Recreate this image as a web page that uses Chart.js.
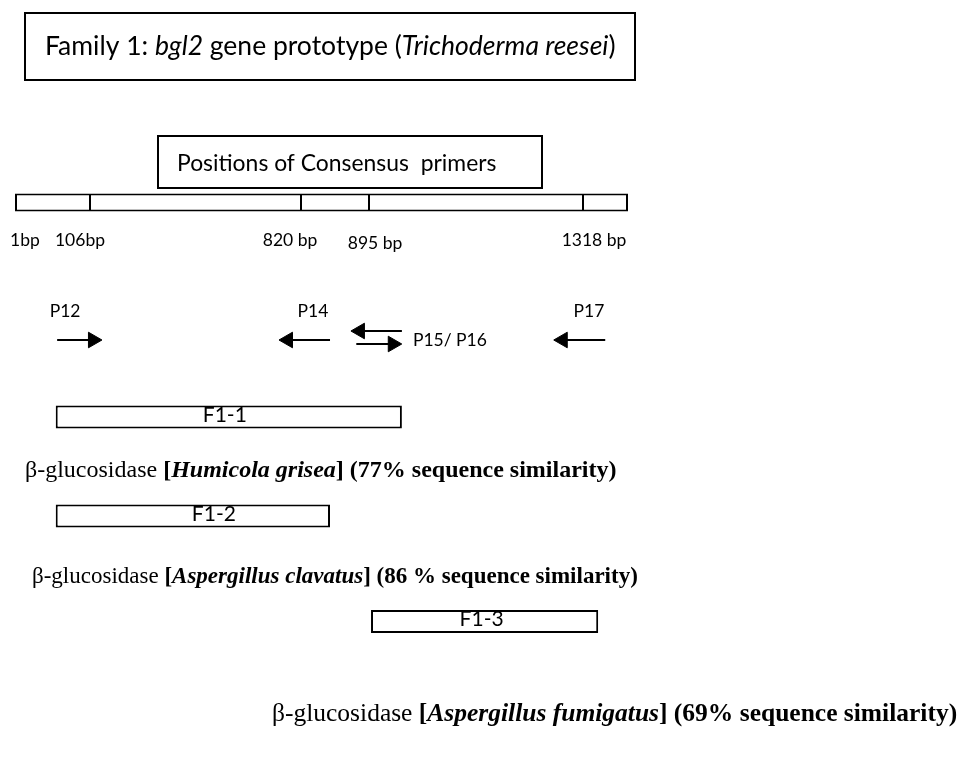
<!DOCTYPE html>
<html>
<head>
<meta charset="utf-8">
<title>Family 1: bgl2 gene prototype</title>
<script src="https://cdn.jsdelivr.net/npm/chart.js@4.4.1/dist/chart.umd.min.js"></script>
<style>
  html, body { margin: 0; padding: 0; background: #fff; }
  #wrap { width: 959px; height: 765px; position: relative; }
</style>
</head>
<body>
<div id="wrap"><canvas id="geneChart"></canvas></div>
<script>
// Gene landmarks (bp) and the labels printed under them
var landmarks = [1, 106, 820, 895, 1318];
var landmarkLabels = ['1bp', '106bp', '820 bp', '895 bp', '1318 bp'];
var geneEnd = 1401;

// Consensus primers, arrow tail -> arrow head (bp)
var primerNames = ['P12', 'P14', 'P15', 'P16', 'P17'];
var primerFrom = [60, 852, 960, 881, 1359];
var primerTo = [116, 776, 885, 942, 1278];

// PCR fragments
var fragments = ['F1-1', 'F1-2', 'F1-3'];
var fragStart = [58, 58, 899];
var fragEnd = [960, 852, 1346];

// Best hit for each fragment
var hitOrganism = ['Humicola grisea', 'Aspergillus clavatus', 'Aspergillus fumigatus'];
var similarity = [77, 86, 69];
var pctGap = ['', ' ', ''];

// ---- layout (schematic, not drawn to scale) ----
var knotBp = landmarks.concat([geneEnd]);
var knotPx = [15, 90, 301, 369, 583, 628];
var ROWS = {
  gene: 202.5,
  primers: [340, 340, 331, 344, 340],
  fragments: [417, 516, 621.5],
  hits: [477, 583, 721]
};
var hitX = [25, 32, 272];
var hitSize = [24, 23, 25.5];
var SANS = 'Lato, "Open Sans", sans-serif';
var SERIF = '"Liberation Serif", "Times New Roman", serif';

// linear scale that maps bp piecewise onto the schematic bar
class SchematicScale extends Chart.LinearScale {
  getPixelForValue(value) {
    var i = 1;
    while (i < knotBp.length - 1 && value > knotBp[i]) i++;
    var t = (value - knotBp[i - 1]) / (knotBp[i] - knotBp[i - 1]);
    return this.left + knotPx[i - 1] + t * (knotPx[i] - knotPx[i - 1]);
  }
  getValueForPixel(pixel) {
    var p = pixel - this.left, i = 1;
    while (i < knotPx.length - 1 && p > knotPx[i]) i++;
    var t = (p - knotPx[i - 1]) / (knotPx[i] - knotPx[i - 1]);
    return knotBp[i - 1] + t * (knotBp[i] - knotBp[i - 1]);
  }
}
SchematicScale.id = 'schematic';
SchematicScale.defaults = Chart.LinearScale.defaults;
Chart.register(SchematicScale);

function drawRuns(ctx, x, y, runs, size, family) {
  runs.forEach(function (r) {
    ctx.font = (r.i ? 'italic ' : '') + (r.b ? 'bold ' : '') + size + 'px ' + family;
    ctx.fillText(r.t, x, y);
    x += ctx.measureText(r.t).width;
  });
}

var annotate = {
  id: 'annotate',
  afterDatasetsDraw: function (chart) {
    var ctx = chart.ctx, xs = chart.scales.x;
    ctx.save();
    ctx.fillStyle = '#000';
    ctx.strokeStyle = '#000';
    ctx.lineWidth = 2;
    ctx.textBaseline = 'alphabetic';

    // title box
    ctx.strokeRect(25, 13, 610, 67);
    drawRuns(ctx, 45, 55, [
      { t: 'Family 1: ' }, { t: 'bgl2', i: 1 }, { t: ' gene prototype (' },
      { t: 'Trichoderma reesei', i: 1 }, { t: ')' }
    ], 26.5, SANS);

    // consensus primers box
    ctx.strokeRect(158, 136, 384, 52);
    drawRuns(ctx, 177, 171, [{ t: 'Positions of Consensus  primers' }], 22.9, SANS);

    // bp labels under the gene
    var labelShift = [10, -10, -11, 6, 11];
    var labelDrop = [0, 0, 0, 3, 0];
    ctx.textAlign = 'center';
    ctx.font = '17.5px ' + SANS;
    landmarks.forEach(function (bp, i) {
      ctx.fillText(landmarkLabels[i], xs.getPixelForValue(bp) + labelShift[i], 246 + labelDrop[i]);
    });

    // primer names
    var above = [[0, -10], [1, 4], [4, 5]];
    above.forEach(function (a) {
      var k = a[0];
      var mid = (xs.getPixelForValue(primerFrom[k]) + xs.getPixelForValue(primerTo[k])) / 2;
      ctx.fillText(primerNames[k], mid + a[1], 317);
    });
    ctx.textAlign = 'left';
    ctx.fillText(primerNames[2] + '/ ' + primerNames[3], xs.getPixelForValue(primerFrom[2]) + 11, 346);

    // fragment names, sitting on the top edge of each box
    var fragShift = [-4, 21, -3];
    var meta = chart.getDatasetMeta(1);
    ctx.textAlign = 'center';
    ctx.font = '21px ' + SANS;
    meta.data.forEach(function (bar, i) {
      var top = Math.min(bar.y - bar.height / 2, bar.y + bar.height / 2);
      var cx = (bar.x + bar.base) / 2;
      ctx.fillText(fragments[i], cx + fragShift[i], top + 16);
    });

    // best hits
    ctx.textAlign = 'left';
    hitOrganism.forEach(function (org, i) {
      drawRuns(ctx, hitX[i], ROWS.hits[i], [
        { t: '\u03b2-glucosidase ' },
        { t: '[', b: 1 },
        { t: org, b: 1, i: 1 },
        { t: '] (' + similarity[i] + pctGap[i] + '% sequence similarity)', b: 1 }
      ], hitSize[i], SERIF);
    });
    ctx.restore();
  }
};

var geneSegments = landmarks.map(function (bp, i) {
  return { x: [bp, knotBp[i + 1]], y: ROWS.gene };
});
var fragmentBars = fragments.map(function (f, i) {
  return { x: [fragStart[i], fragEnd[i]], y: ROWS.fragments[i] };
});
var primerLines = primerNames.map(function (name, i) {
  var fwd = primerTo[i] > primerFrom[i];
  return {
    type: 'line',
    label: name,
    data: [{ x: primerFrom[i], y: ROWS.primers[i] }, { x: primerTo[i], y: ROWS.primers[i] }],
    borderColor: '#000',
    borderWidth: 2,
    pointRadius: [0, 9],
    pointStyle: 'triangle',
    pointRotation: fwd ? 90 : -90,
    pointBackgroundColor: '#000',
    pointBorderColor: '#000',
    pointBorderWidth: 1
  };
});

var ctx = document.getElementById('geneChart').getContext('2d');
var geneChart = new Chart(ctx, {
  type: 'bar',
  data: {
    datasets: [{
      label: 'bgl2',
      data: geneSegments,
      backgroundColor: '#fff',
      borderColor: '#000',
      borderWidth: function (c) {
        return {
          top: 2, bottom: 2,
          left: c.dataIndex === 0 ? 2 : 1,
          right: c.dataIndex === landmarks.length - 1 ? 2 : 1
        };
      },
      borderSkipped: false,
      grouped: false,
      inflateAmount: 0,
      maxBarThickness: 18
    }, {
      label: 'fragments',
      data: fragmentBars,
      backgroundColor: '#fff',
      borderColor: '#000',
      borderWidth: 2,
      borderSkipped: false,
      grouped: false,
      inflateAmount: 0,
      maxBarThickness: 23
    }].concat(primerLines)
  },
  options: {
    indexAxis: 'y',
    responsive: true,
    maintainAspectRatio: false,
    animation: false,
    layout: { padding: 0, autoPadding: false },
    scales: {
      x: { type: 'schematic', min: 0, max: 1500, display: false, offset: false },
      y: { type: 'linear', min: 0, max: 765, reverse: true, display: false, offset: false }
    },
    plugins: {
      legend: { display: false },
      tooltip: { enabled: false }
    }
  },
  plugins: [annotate]
});
</script>
</body>
</html>
